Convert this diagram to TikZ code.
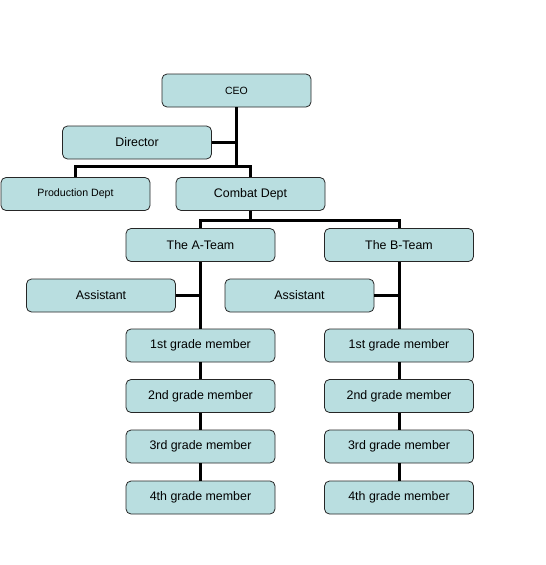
\documentclass[tikz,border=0pt]{standalone}
\usepackage{fontspec}
\setmainfont{Liberation Sans}
\usetikzlibrary{calc}
\definecolor{boxfill}{HTML}{B9DEE0}
\tikzset{
  every picture/.style={line join=miter},
  unit/.style={draw=black!85, line width=0.8pt, fill=boxfill, rounded corners=5pt,
    minimum width=149pt, minimum height=33pt, inner sep=0pt,
    font=\fontsize{12.4}{14}\selectfont},
  link/.style={line width=3pt, line cap=butt},
}

\begin{document}
\begin{tikzpicture}[x=1pt, y=-1pt]
  \useasboundingbox (0,0) rectangle (546,565);
  % top of the chart
  \node[unit, font=\fontsize{10.5}{12}\selectfont] (ceo) at (236.5,90.5) {CEO};
  \node[unit] (director) at (137,142.5) {Director};
  \node[unit, font=\fontsize{10.6}{12}\selectfont] (prod) at (75.5,194) {Production Dept};
  \node[unit] (combat) at (250.5,194) {Combat Dept};
  \coordinate (busA) at (0,166);
  \draw[link] (ceo.south) -- (ceo.south |- busA);
  \draw[link] (director.east) -- (director.east -| ceo.south);
  \draw[link] (prod.north) -- (prod.north |- busA) -- (combat.north |- busA) -- (combat.north);
  % teams
  \node[unit] (ateam) at (200.5,245) {The A-Team};
  \node[unit] (bteam) at (399,245) {The B-Team};
  \coordinate (busB) at (0,220.5);
  \draw[link] (combat.south) -- (combat.south |- busB);
  \draw[link] (ateam.north) -- (ateam.north |- busB) -- (bteam.north |- busB) -- (bteam.north);
  \node[unit] (assistA) at (101,295.5) {Assistant};
  \node[unit] (assistB) at (299.5,295.5) {Assistant};
  % members of both teams
  \foreach \i/\ord/\y in {1/1st/345.5, 2/2nd/396, 3/3rd/446.5, 4/4th/497.5} {
    \node[unit] (a\i) at (200.5,\y) {\ord\ grade member};
    \node[unit] (b\i) at (399,\y) {\ord\ grade member};
  }
  \draw[link] (ateam.south) -- (a1.north);
  \draw[link] (bteam.south) -- (b1.north);
  \draw[link] (assistA.east) -- (assistA.east -| ateam.south);
  \draw[link] (assistB.east) -- (assistB.east -| bteam.south);
  \foreach \i [count=\j from 2] in {1,2,3} {
    \draw[link] (a\i.south) -- (a\j.north);
    \draw[link] (b\i.south) -- (b\j.north);
  }
\end{tikzpicture}
\end{document}
